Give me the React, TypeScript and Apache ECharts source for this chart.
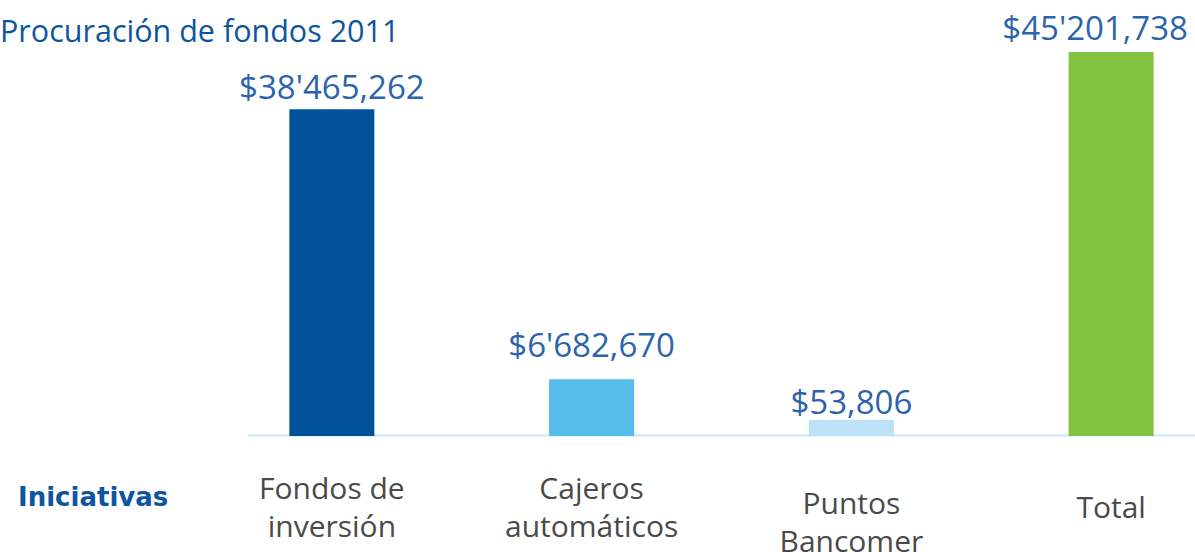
import React, { useEffect, useRef } from "react";
import * as echarts from "echarts";

// Fund-raising figures by initiative (MXN)
const categories = ["Fondos de\ninversión", "Cajeros\nautomáticos", "Puntos\nBancomer", "Total"];
const values = [38465262, 6682670, 53806, 45201738];
const valueLabels = ["$38'465,262", "$6'682,670", "$53,806", "$45'201,738"];
const barColors = ["#00529b", "#55bbea", "#bde1f6", "#82c341"];
const labelDistances = [6, 18, 2, 8];
const labelShiftX = [0, 0, 0, -16];

const TITLE = "Procuración de fondos 2011";
const AXIS_NAME = "Iniciativas";

export default function App() {
  const ref = useRef<HTMLDivElement>(null);

  useEffect(() => {
    if (!ref.current) return;
    const chart = echarts.init(ref.current, undefined, { renderer: "svg" });
    const font = "'Open Sans', 'Noto Sans', sans-serif";

    chart.setOption({
      animation: false,
      backgroundColor: "#ffffff",
      textStyle: { fontFamily: font },
      grid: {
        left: 202,
        top: 52,
        width: 1039,
        height: 384,
        containLabel: false,
        outerBoundsMode: "none",
      },
      xAxis: {
        type: "category",
        data: categories,
        axisLine: { show: false },
        axisTick: { show: false },
        axisLabel: {
          color: "#4a4a4a",
          fontSize: 30,
          lineHeight: 38,
          fontFamily: font,
          margin: 70,
          verticalAlign: "middle",
          interval: 0,
          // the third label sits a little lower than the rest
          formatter: (v: string, i: number) => (i === 2 ? "{gap| }\n" + v : v),
          rich: {
            gap: { lineHeight: 30, fontSize: 2 },
          },
        },
      },
      yAxis: {
        type: "value",
        min: 0,
        max: values[3],
        show: false,
        splitLine: { show: false },
      },
      graphic: [
        {
          type: "line",
          shape: { x1: 248, y1: 435.5, x2: 1195, y2: 435.5 },
          style: { stroke: "#c8e6f7", lineWidth: 2 },
          z: 0,
        },
        {
          type: "text",
          left: 0,
          top: 14,
          style: { text: TITLE, fill: "#0e55a1", fontSize: 30.5, fontFamily: font },
        },
        {
          type: "text",
          left: 18,
          top: 484,
          style: {
            text: AXIS_NAME,
            fill: "#0e55a1",
            fontSize: 26,
            fontWeight: "bold",
            fontFamily: "'DejaVu Sans', sans-serif",
          },
        },
      ],
      series: [
        {
          type: "bar",
          barWidth: 85,
          barMinHeight: 16,
          z: 2,
          data: values.map((v, i) => ({
            value: v,
            itemStyle: { color: barColors[i] },
            label: {
              show: true,
              position: "top",
              distance: labelDistances[i],
              offset: [labelShiftX[i], 0],
              formatter: valueLabels[i],
              color: "#2b64aa",
              fontSize: 33,
              lineHeight: 33,
              fontFamily: font,
            },
          })),
        },
      ],
    });

    return () => chart.dispose();
  }, []);

  return (
    <div
      ref={ref}
      style={{ position: "fixed", left: 0, top: 0, width: 1195, height: 552 }}
    />
  );
}
